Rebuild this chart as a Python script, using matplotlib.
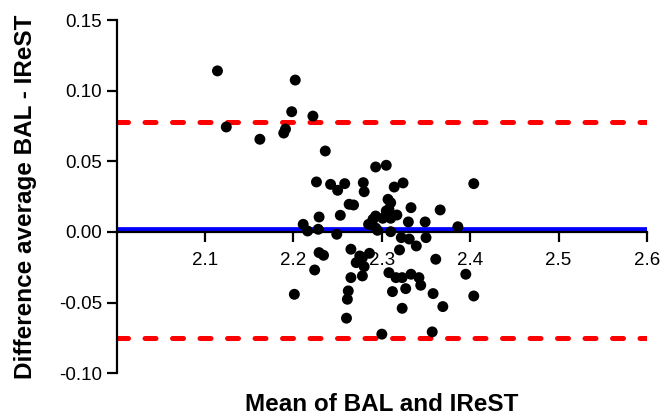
import matplotlib
matplotlib.use("Agg")
import matplotlib.pyplot as plt

plt.rcParams['font.family'] = ['Liberation Sans', 'DejaVu Sans']
plt.rcParams['axes.unicode_minus'] = False

# mean of the two tests (x) and their difference (y)
mean_vals = [2.114, 2.202, 2.198, 2.222, 2.124, 2.189, 2.191, 2.162, 2.236, 2.293,
             2.305, 2.226, 2.242, 2.250, 2.258, 2.279, 2.280, 2.314, 2.324, 2.404,
             2.263, 2.268, 2.307, 2.310, 2.333, 2.366, 2.229, 2.253, 2.293, 2.305,
             2.301, 2.310, 2.317, 2.330, 2.349, 2.211, 2.216, 2.228, 2.249, 2.285,
             2.293, 2.295, 2.310, 2.386, 2.322, 2.331, 2.350, 2.339, 2.320, 2.229,
             2.234, 2.265, 2.275, 2.286, 2.361, 2.224, 2.280, 2.278, 2.265, 2.308,
             2.316, 2.323, 2.333, 2.342, 2.344, 2.395, 2.201, 2.262, 2.261, 2.312,
             2.327, 2.358, 2.404, 2.260, 2.323, 2.369, 2.300, 2.357, 2.278, 2.308,
             2.290, 2.271]
diff_vals = [0.114, 0.1075, 0.0851, 0.0820, 0.0743, 0.0700, 0.0728, 0.0656, 0.0573, 0.0460,
             0.0472, 0.0354, 0.0337, 0.0295, 0.0342, 0.0349, 0.0285, 0.0318, 0.0347, 0.0342,
             0.0196, 0.0191, 0.0231, 0.0207, 0.0172, 0.0156, 0.0106, 0.0118, 0.0113, 0.0149,
             0.0097, 0.0097, 0.0120, 0.0071, 0.0071, 0.0054, 0.0007, 0.0019, -0.0016, 0.0054,
             0.0028, 0.0012, 0.0002, 0.0037, -0.0040, -0.0050, -0.0040, -0.0099, -0.0127, -0.0146,
             -0.0165, -0.0122, -0.0170, -0.0151, -0.0193, -0.0269, -0.0245, -0.0311, -0.0323, -0.0288,
             -0.0323, -0.0323, -0.0299, -0.0323, -0.0377, -0.0299, -0.0441, -0.0417, -0.0476, -0.0422,
             -0.0401, -0.0436, -0.0453, -0.0610, -0.0540, -0.0528, -0.0723, -0.0707, -0.0182, 0.0161,
             0.0090, -0.0217]

bias = 0.0019
upper_loa = 0.078
lower_loa = -0.0747

x_ticks = [2.1, 2.2, 2.3, 2.4, 2.5, 2.6]
y_ticks = [-0.10, -0.05, 0.00, 0.05, 0.10, 0.15]

fig = plt.figure(figsize=(6.62, 4.15), dpi=100)
ax = fig.add_axes([0.1763, 0.1005, 0.801, 0.8513])

# limits of agreement and mean difference
for yv in (upper_loa, lower_loa):
    ax.plot([2.0, 2.6], [yv, yv], color='#ff0000', lw=3.6,
            linestyle=(0, (2.2, 3.3)), dash_capstyle='round', zorder=2)
ax.plot([2.0, 2.6], [bias, bias], color='#0000ff', lw=3.4, zorder=2,
        solid_capstyle='butt')

ax.scatter(mean_vals, diff_vals, s=62, color='black', edgecolors='none', zorder=3)

ax.set_xlim(2.0, 2.6)
ax.set_ylim(-0.10, 0.15)
ax.set_xticks(x_ticks)
ax.set_yticks(y_ticks)
ax.set_xticklabels(['%.1f' % t for t in x_ticks])
ax.set_yticklabels(['%.2f' % t for t in y_ticks])

ax.spines['top'].set_visible(False)
ax.spines['right'].set_visible(False)
ax.spines['bottom'].set_position(('data', 0))
ax.spines['left'].set_linewidth(1.6)
ax.spines['bottom'].set_linewidth(1.6)
ax.tick_params(axis='both', length=7.5, width=1.6, labelsize=13.5, direction='out')
ax.tick_params(axis='x', pad=7)
ax.tick_params(axis='y', pad=3)

ax.set_xlabel('Mean of BAL and IReST', fontsize=17.5, fontweight='bold')
ax.set_ylabel('Difference average BAL - IReST', fontsize=17.5, fontweight='bold')
ax.xaxis.set_label_coords(0.5, -0.055)
ax.yaxis.set_label_coords(-0.15, 0.5)

fig.savefig('out.png', dpi=100)
